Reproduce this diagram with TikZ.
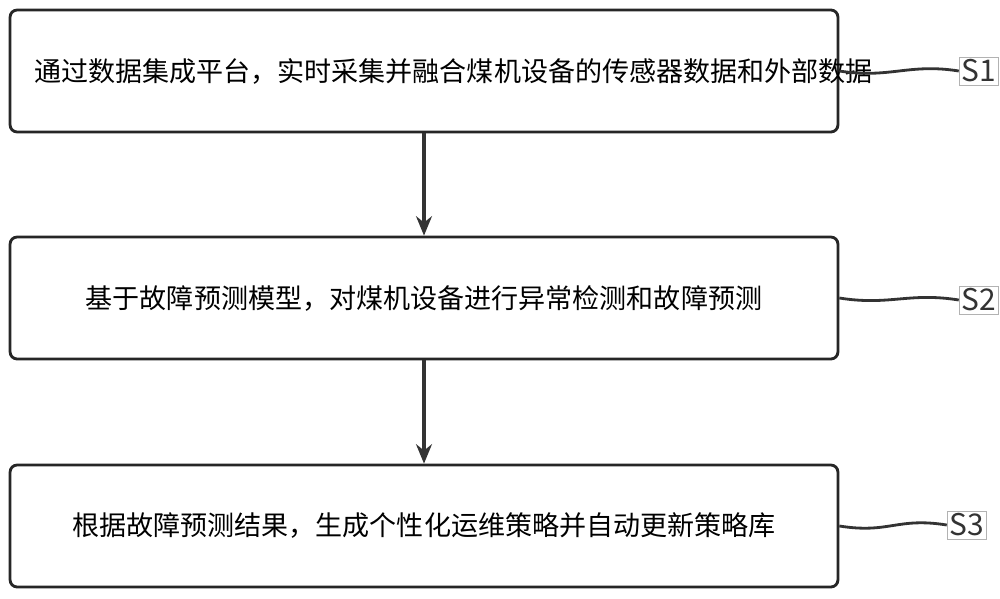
\documentclass[tikz,border=0pt]{standalone}
\usepackage{fontspec}
\setmainfont{Noto Sans CJK SC}
\usepackage{tikz}
\usetikzlibrary{arrows.meta}

\begin{document}
\begin{tikzpicture}[x=0.02cm,y=-0.02cm,
	stepbox/.style = {draw=black!85,line width=1.6pt,rounded corners=4pt,minimum width=16.56cm,minimum height=2.44cm,align=center,text width=15.6cm,font=\fontsize{15.4}{24}\selectfont},
	tag/.style = {draw=black!30,line width=0.5pt,inner sep=1.5pt,font=\fontsize{17}{20}\selectfont,text=black!80},
	flow/.style = {-{Stealth[length=11pt,width=9pt]},line width=2pt,black!80},
	lead/.style = {line width=1.6pt,black!80}
	]
  \useasboundingbox (0,0) rectangle (1000,598);
  \node[stepbox] (s1) at (424,71) {通过数据集成平台，实时采集并融合煤机设备的传感器数据和外部数据};
  \node[stepbox] (s2) at (424,298) {基于故障预测模型，对煤机设备进行异常检测和故障预测};
  \node[stepbox] (s3) at (424,526) {根据故障预测结果，生成个性化运维策略并自动更新策略库};
  \node[tag] (t1) at (979,71) {S1};
  \node[tag] (t2) at (979,300) {S2};
  \node[tag] (t3) at (967,525) {S3};
  \draw[flow] (s1) -- (s2);
  \draw[flow] (s2) -- (s3);
  % leaders to the step tags
  \foreach \s/\t in {s1/t1,s2/t2,s3/t3}
    \draw[lead] (\s.east) .. controls +(50,8) and +(-50,-8) .. (\t.west);
\end{tikzpicture}
\end{document}
